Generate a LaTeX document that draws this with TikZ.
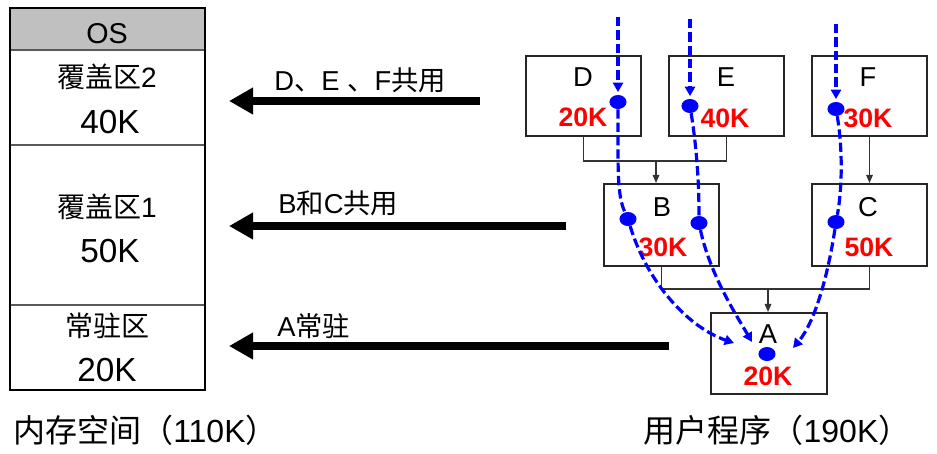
\documentclass[tikz,border=0pt]{standalone}
\usepackage{fontspec}
\setmainfont{Liberation Sans}
\newfontfamily\cjk{Noto Sans CJK SC}
\usetikzlibrary{arrows.meta,fit,shapes.geometric}
\definecolor{osgray}{RGB}{192,192,192}
\definecolor{blu}{RGB}{0,0,255}
\definecolor{rd}{RGB}{255,0,0}
\begin{document}
\begin{tikzpicture}[x=0.75pt,y=-0.75pt,
  memreg/.style={draw=black!65, line width=1pt, inner sep=0pt},
  pbox/.style={draw=black!85, line width=1.6pt, inner sep=0pt},
  memlbl/.style={inner sep=0pt, font=\fontsize{21}{25}\selectfont},
  memval/.style={inner sep=0pt, font=\fontsize{25}{29}\selectfont},
  arrlbl/.style={inner sep=0pt, anchor=west, font=\fontsize{20.5}{24}\selectfont},
  boxlbl/.style={inner sep=0pt, font=\fontsize{20.5}{24}\selectfont},
  boxval/.style={inner sep=0pt, text=rd, font=\fontsize{20}{24}\selectfont\bfseries},
  biglbl/.style={inner sep=0pt, font=\fontsize{24}{28}\selectfont},
  bigarrow/.style={line width=6pt, -{Triangle[length=18pt,width=19pt]}},
  conn/.style={draw=black!80, line width=0.9pt},
  carrow/.style={conn, -{Triangle[length=6pt,width=5pt]}},
  bdash/.style={draw=blu, line width=2.4pt, dash pattern=on 7pt off 3pt},
  barrow/.style={bdash, -{Triangle[length=7pt,width=7.5pt]}},
  bdot/.style={ellipse, fill=blu, inner sep=0pt, minimum width=12.8pt, minimum height=10.5pt}
]
\useasboundingbox (0,0) rectangle (937,453);

% memory column
\node[memreg, fill=osgray, fit={(10,8) (205,50)}] (os) {};
\node[memreg, fit={(10,50) (205,145)}] (ov2) {};
\node[memreg, fit={(10,145) (205,305)}] (ov1) {};
\node[memreg, fit={(10,305) (205,390)}] (res) {};
\node[draw=black, line width=1.5pt, inner sep=0pt, fit={(10,8) (205,390)}] (mem) {};
\node[memval, font=\fontsize{21.5}{25}\selectfont] (ost) at (107,34) {OS};
\node[memlbl] (ov2a) at (107,77) {{\cjk 覆盖区}2};
\node[memval] (ov2b) at (110,122) {40K};
\node[memlbl] (ov1a) at (107,207) {{\cjk 覆盖区}1};
\node[memval] (ov1b) at (110,251) {50K};
\node[memlbl] (resa) at (107,326) {\cjk 常驻区};
\node[memval] (resb) at (107,370) {20K};
\node[biglbl, anchor=west] (memcap) at (13,430) {{\cjk 内存空间（}110K{\cjk ）}};

% big arrows
\coordinate (s1) at (480,101); \coordinate (e1) at (229,101);
\coordinate (s2) at (566,226); \coordinate (e2) at (229,226);
\coordinate (s3) at (669,346); \coordinate (e3) at (229,346);
\draw[bigarrow] (s1) -- (e1);
\draw[bigarrow] (s2) -- (e2);
\draw[bigarrow] (s3) -- (e3);
\node[arrlbl] (l1) at (274,80) {D{\cjk 、}E {\cjk 、}F{\cjk 共用}};
\node[arrlbl] (l2) at (278,203) {B{\cjk 和}C{\cjk 共用}};
\node[arrlbl] (l3) at (277,326) {A{\cjk 常驻}};

% program boxes
\node[pbox, fit={(526,56) (641,136)}] (D) {};
\node[pbox, fit={(669,56) (784,136)}] (E) {};
\node[pbox, fit={(812,56) (927,136)}] (F) {};
\node[pbox, fit={(604,184) (719,266)}] (B) {};
\node[pbox, fit={(812,184) (927,266)}] (C) {};
\node[pbox, fit={(711,313) (827,394)}] (A) {};
\node[boxlbl] (Dl) at (583,77) {D};
\node[boxlbl] (El) at (726,77) {E};
\node[boxlbl] (Fl) at (868,77) {F};
\node[boxlbl] (Bl) at (662,207) {B};
\node[boxlbl] (Cl) at (868,207) {C};
\node[boxlbl] (Al) at (768,334) {A};
\node[boxval] (Dv) at (583,117) {20K};
\node[boxval] (Ev) at (725,118) {40K};
\node[boxval] (Fv) at (868,118) {30K};
\node[boxval] (Bv) at (663,247) {30K};
\node[boxval] (Cv) at (869,247) {50K};
\node[boxval] (Av) at (768,376) {20K};
\node[biglbl] (progcap) at (777,430) {{\cjk 用户程序（}190K{\cjk ）}};

% tree connectors
\coordinate (jDE) at (656,161);
\draw[conn] (D.south) |- (jDE) -| (E.south);
\draw[carrow] (jDE) -- (jDE |- B.north);
\draw[carrow] (F.south) -- (C.north);
\coordinate (jBC) at (768,289);
\draw[conn] (B.south) |- (jBC) -| (C.south);
\draw[carrow] (jBC) -- (jBC |- A.north);

% blue dots
\node[bdot] (dD) at (618,102) {};
\node[bdot] (dE) at (690,106) {};
\node[bdot] (dF) at (836,109) {};
\node[bdot] (dB1) at (628,219) {};
\node[bdot] (dB2) at (699,223) {};
\node[bdot] (dC) at (836,222) {};
\node[bdot] (dA) at (767,354) {};

% blue paths
\coordinate (tD) at (618,17);
\coordinate (tE) at (690,19);
\coordinate (tF) at (836,24);
\draw[barrow, shorten >=2pt] (tD) -- (dD.north);
\draw[barrow, shorten >=2pt] (tE) -- (dE.north);
\draw[barrow, shorten >=2pt] (tF) -- (dF.north);
\draw[bdash] (dD) .. controls (618,170) and (617,195) .. (dB1);
\draw[bdash] (dE) .. controls (697,150) and (699,185) .. (dB2);
\draw[bdash] (dF) .. controls (843,150) and (842,190) .. (dC);
\coordinate (hA1) at (734,343);
\coordinate (hA2) at (752,342);
\coordinate (hA3) at (793,348);
\draw[barrow] (dB1) .. controls (648,285) and (690,328) .. (hA1);
\draw[barrow] (dB2) .. controls (710,275) and (738,318) .. (hA2);
\draw[barrow] (dC) .. controls (828,275) and (815,322) .. (hA3);
\end{tikzpicture}
\end{document}
